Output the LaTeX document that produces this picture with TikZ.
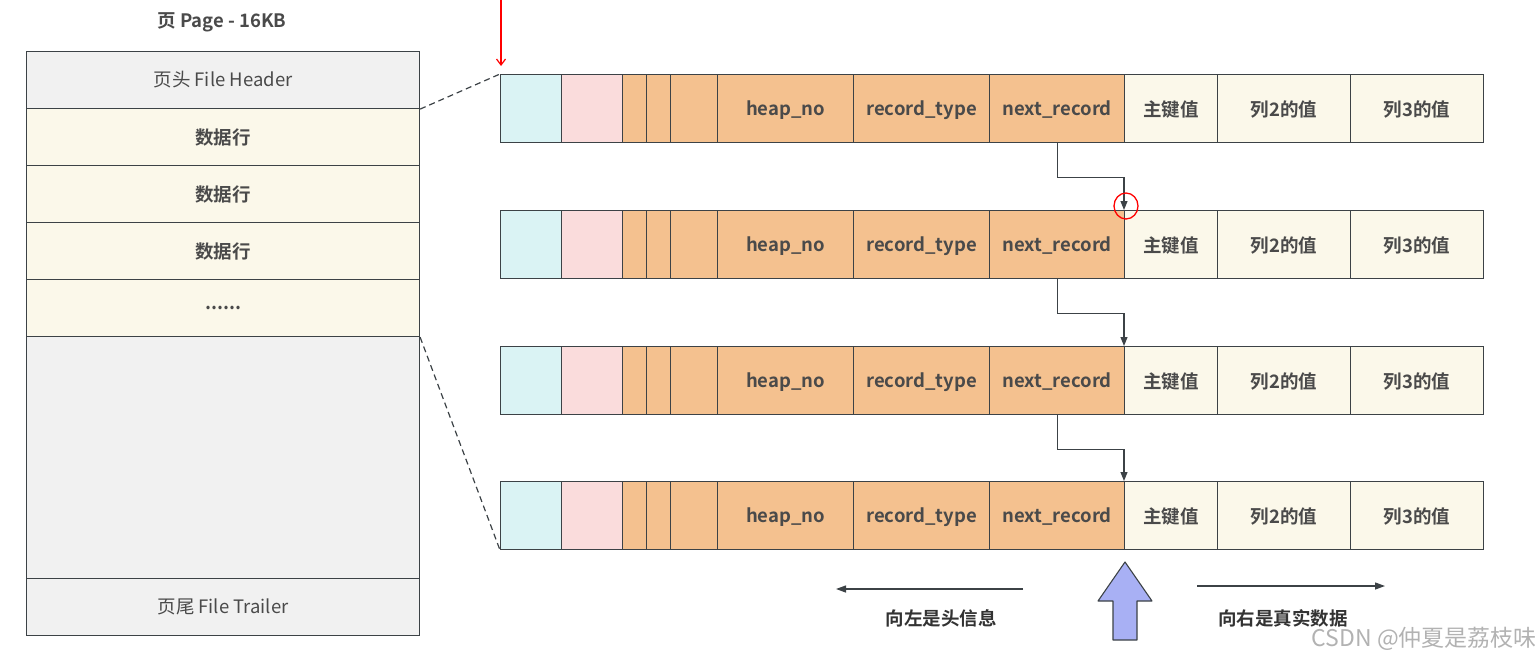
\documentclass[tikz,border=0pt]{standalone}
\usepackage{fontspec}
\setmainfont{Noto Sans CJK SC}[BoldFont={Noto Sans CJK SC Bold}]
\usepackage{tikz}
\usetikzlibrary{arrows.meta,positioning,calc}
\definecolor{softcyan}{HTML}{DAF3F4}
\definecolor{softpink}{HTML}{FADCDC}
\definecolor{softorange}{HTML}{F4C18F}
\definecolor{softcream}{HTML}{FBF8EA}
\definecolor{softgray}{HTML}{F1F1F1}
\definecolor{linegray}{HTML}{3C4246}
\definecolor{textgray}{HTML}{4A4A4A}
\definecolor{arrowblue}{HTML}{A8B0F4}
\newcommand{\fs}{\fontsize{18.5}{20}\selectfont}

\begin{document}
\begin{tikzpicture}[x=1pt,y=-1pt,every node/.style={text=textgray,inner sep=0pt},
  cell/.style={draw=linegray,line width=1.1pt,anchor=north west,minimum height=68pt,text depth=0pt,font=\fs\bfseries},
  pagebox/.style={draw=linegray,line width=1.1pt,anchor=north west,minimum width=393pt,minimum height=57pt,font=\fs},
  link/.style={draw=linegray,line width=1.1pt,-{Triangle[length=9pt,width=7pt]}},
  flow/.style={draw=linegray,line width=1.3pt,-{Triangle[length=10pt,width=7pt]}},
  zoomline/.style={draw=linegray,line width=1.2pt,dash pattern=on 6pt off 4pt}]
\useasboundingbox (0,0) rectangle (1540,667);
% page
\node[font=\fs\bfseries] (title) at (222,22) {页 Page - 16KB};
\node[pagebox,fill=softgray] (fh) at (26,51) {页头 File Header};
\node[pagebox,fill=softcream,font=\fs\bfseries] (row1) at (26,108) {数据行};
\node[pagebox,fill=softcream,font=\fs\bfseries] (row2) at (26,165) {数据行};
\node[pagebox,fill=softcream,font=\fs\bfseries] (row3) at (26,222) {数据行};
\node[pagebox,fill=softcream,font=\fs\bfseries] (row4) at (26,279) {......};
\node[pagebox,fill=softgray,minimum height=242pt] (free) at (26,336) {};
\node[pagebox,fill=softgray] (ft) at (26,578) {页尾 File Trailer};
% records
\foreach \r/\y in {1/74,2/210,3/346,4/481}{
  \node[cell,fill=softcyan,minimum width=61pt] (a\r) at (500,\y) {};
  \node[cell,fill=softpink,minimum width=61pt] (b\r) at (561,\y) {};
  \node[cell,fill=softorange,minimum width=24pt] (c\r) at (622,\y) {};
  \node[cell,fill=softorange,minimum width=24pt] (d\r) at (646,\y) {};
  \node[cell,fill=softorange,minimum width=47pt] (e\r) at (670,\y) {};
  \node[cell,fill=softorange,minimum width=136pt] (heap\r) at (717,\y) {heap\_no};
  \node[cell,fill=softorange,minimum width=136pt] (type\r) at (853,\y) {record\_type};
  \node[cell,fill=softorange,minimum width=135pt] (next\r) at (989,\y) {next\_record};
  \node[cell,fill=softcream,minimum width=93pt] (pk\r) at (1124,\y) {主键值};
  \node[cell,fill=softcream,minimum width=133pt] (colb\r) at (1217,\y) {列2的值};
  \node[cell,fill=softcream,minimum width=133pt] (colc\r) at (1350,\y) {列3的值};
}
\foreach \r/\n in {1/2,2/3,3/4}
  \draw[link] (next\r.south) -- ++(0,34) -| (pk\n.north west);
% zoom lines
\draw[zoomline] (fh.south east) -- (a1.north west);
\draw[zoomline] (row4.south east) -- (a4.south west);
% directions
\coordinate (lfrom) at (1023,589);
\coordinate (lto) at (836,589);
\coordinate (rfrom) at (1197,586);
\coordinate (rto) at (1385,586);
\draw[flow] (lfrom) -- (lto);
\draw[flow] (rfrom) -- (rto);
\node[font=\fs\bfseries,text=black!80] (left) at (941,618) {向左是头信息};
\node[font=\fs\bfseries,text=black!80] (right) at (1283,618) {向右是真实数据};
\draw[linegray,line width=1.1pt,fill=arrowblue,line join=round]
  (1113,640) -- (1113,601) -- (1098,601) -- (1125,562) -- (1152,601) -- (1137,601) -- (1137,640) -- cycle;
% red marks
\draw[red,line width=1.2pt,-{Straight Barb[length=6pt,width=9pt]}] (501,0) -- (501,66);
\draw[red,line width=1.3pt] (1126,206) ellipse [x radius=12,y radius=13];
\node[font=\fontsize{23}{24}\selectfont,text=black!30,anchor=east] (mark) at (1537,639) {CSDN @仲夏是荔枝味};
\end{tikzpicture}
\end{document}
